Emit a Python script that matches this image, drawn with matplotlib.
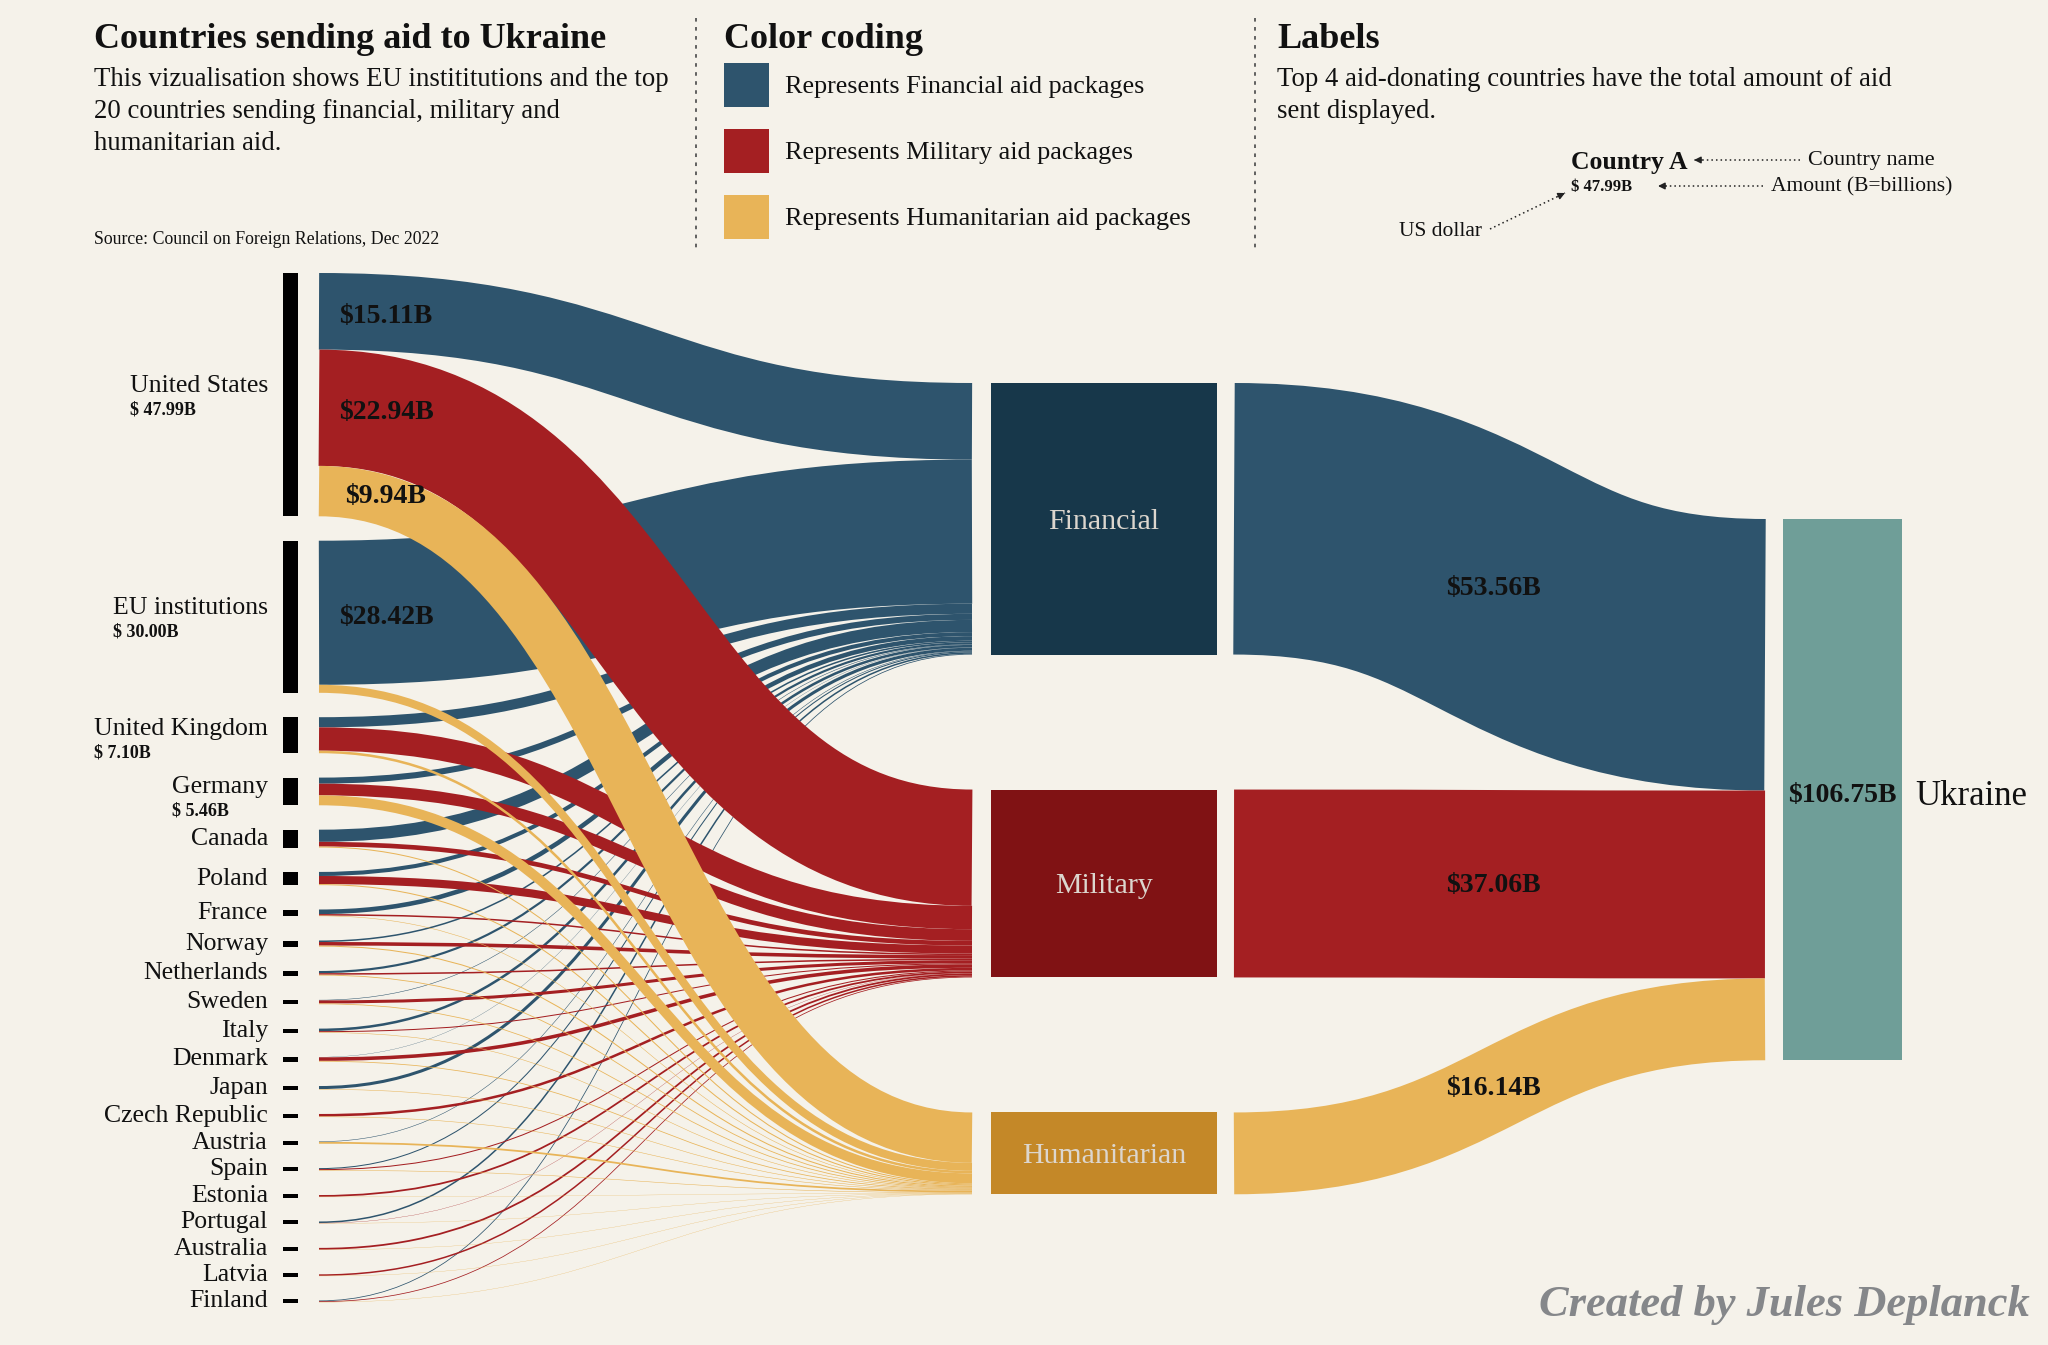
import matplotlib
matplotlib.use("Agg")
import matplotlib.pyplot as plt
from matplotlib.path import Path
from matplotlib.patches import PathPatch, Rectangle

# ---------------- data (billions of US dollars) ----------------
countries = ["United States", "EU institutions", "United Kingdom", "Germany", "Canada",
             "Poland", "France", "Norway", "Netherlands", "Sweden", "Italy", "Denmark",
             "Japan", "Czech Republic", "Austria", "Spain", "Estonia", "Portugal",
             "Australia", "Latvia", "Finland"]
financial = [15.11, 28.42, 2.00, 1.20, 2.40, 0.80, 0.90, 0.30, 0.43, 0.10, 0.50, 0.05,
             0.60, 0.00, 0.10, 0.20, 0.00, 0.30, 0.00, 0.00, 0.15]
military = [22.94, 0.00, 4.60, 2.30, 0.92, 1.60, 0.30, 0.70, 0.30, 0.60, 0.20, 0.70,
            0.00, 0.50, 0.00, 0.20, 0.35, 0.05, 0.35, 0.30, 0.15]
humanitarian = [9.94, 1.58, 0.50, 1.96, 0.20, 0.20, 0.10, 0.20, 0.16, 0.15, 0.10, 0.15,
                0.10, 0.10, 0.35, 0.10, 0.05, 0.05, 0.05, 0.05, 0.05]
aid_types = ["Financial", "Military", "Humanitarian"]
ukraine_total = 106.75
n_amount_labels = 4          # top 4 donors show their total
link_label_min = 9.0         # flows above this value get a label

# ---------------- styling ----------------
W, H = 2048, 1345
BG = "#F5F2EA"
LINK_COL = ["#2E546D", "#A41F22", "#E8B458"]
NODE_COL = ["#17374A", "#801214", "#C48828"]
UKR_COL = "#6F9E98"
SERIF = ["Liberation Serif", "DejaVu Serif"]
plt.rcParams["font.family"] = SERIF

fig = plt.figure(figsize=(W / 100, H / 100), dpi=100)
fig.patch.set_facecolor(BG)
ax = fig.add_axes([0, 0, 1, 1])
ax.set_xlim(0, W)
ax.set_ylim(H, 0)
ax.axis("off")
ax.set_facecolor(BG)

KY = 5.07          # px per billion
TOP_L, PAD_L = 273, 24.4
TOP_M, PAD_M = 383, 135
TOP_U = 519
X_BAR0, X_BAR1 = 283, 298
X_L0, X_L1 = 319, 972
X_M0, X_M1 = 991, 1217
X_R0, X_R1 = 1234, 1765
X_U0, X_U1 = 1783, 1902

series = [financial, military, humanitarian]

# ---------------- layout ----------------
left_nodes = []
y = TOP_L
for i in range(len(countries)):
    h = sum(s[i] for s in series) * KY
    left_nodes.append((y, h))
    y += h + PAD_L

type_totals = [sum(s) for s in series]
mid_nodes = []
y = TOP_M
for t in type_totals:
    h = t * KY
    mid_nodes.append((y, h))
    y += h + PAD_M

ukr_h = sum(type_totals) * KY


def draw_link(x0, x1, ys, yt, w, color, z=2):
    xm = (x0 + x1) / 2
    p = Path([(x0, ys), (xm, ys), (xm, yt), (x1, yt)],
             [Path.MOVETO, Path.CURVE4, Path.CURVE4, Path.CURVE4])
    ax.add_patch(PathPatch(p, fill=False, lw=w * 0.72, edgecolor=color,
                           capstyle="butt", zorder=z))


# source offsets
src_off = []
for i in range(len(countries)):
    offs = []
    acc = left_nodes[i][0]
    for j in range(3):
        offs.append(acc)
        acc += series[j][i] * KY
    src_off.append(offs)

# links left -> middle (drawn type by type)
for j in range(3):
    acc = mid_nodes[j][0]
    for i in range(len(countries)):
        v = series[j][i]
        if v <= 0:
            continue
        w = v * KY
        ys = src_off[i][j] + w / 2
        yt = acc + w / 2
        acc += w
        draw_link(X_L0, X_L1, ys, yt, w, LINK_COL[j])
        if v >= link_label_min:
            ax.text(386, ys + 5, f"${v:.2f}B", ha="center", va="center",
                    fontsize=20, fontweight="bold", color="#111111", zorder=5)

# links middle -> Ukraine
acc = TOP_U
for j in range(3):
    w = type_totals[j] * KY
    ys = mid_nodes[j][0] + w / 2
    yt = acc + w / 2
    acc += w
    draw_link(X_R0, X_R1, ys, yt, w, LINK_COL[j])
    ax.text((X_R0 + X_R1) / 2 - 6, (ys + yt) / 2 + 2, f"${type_totals[j]:.2f}B",
            ha="center", va="center", fontsize=20, fontweight="bold",
            color="#111111", zorder=5)

# left nodes + labels
for i, c in enumerate(countries):
    y0, h = left_nodes[i]
    hb = max(h, 4)
    yc = y0 + h / 2
    ax.add_patch(Rectangle((X_BAR0, yc - hb / 2), X_BAR1 - X_BAR0, hb,
                           facecolor="black", edgecolor="none", zorder=3))
    if i < n_amount_labels:
        yn = yc - min(9, h / 6)
        t = ax.text(268, yn, c, ha="right", va="center", fontsize=18.5, color="#111111")
        fig.canvas.draw()
        bb = t.get_window_extent()
        xl = bb.x0
        tot = sum(s[i] for s in series)
        ax.text(xl, yn + 24, f"$ {tot:.2f}B", ha="left", va="center",
                fontsize=13, fontweight="bold", color="#111111")
    else:
        ax.text(268, yc, c, ha="right", va="center", fontsize=18.5, color="#111111")

# middle nodes
for j in range(3):
    y0, h = mid_nodes[j]
    ax.add_patch(Rectangle((X_M0, y0), X_M1 - X_M0, h, facecolor=NODE_COL[j],
                           edgecolor="none", zorder=3))
    ax.text((X_M0 + X_M1) / 2, y0 + h / 2 + 3, aid_types[j], ha="center", va="center",
            fontsize=21.5, color="#DCD6CE", zorder=4)

# Ukraine node
ax.add_patch(Rectangle((X_U0, TOP_U), X_U1 - X_U0, ukr_h, facecolor=UKR_COL,
                       edgecolor="none", zorder=3))
ax.text((X_U0 + X_U1) / 2, TOP_U + ukr_h / 2 + 6, f"${ukraine_total:.2f}B", ha="center",
        va="center", fontsize=20, fontweight="bold", color="#111111", zorder=4)
ax.text(1915, TOP_U + ukr_h / 2 + 7, "Ukraine", ha="left", va="center", fontsize=25,
        color="#111111", zorder=4)

# ---------------- header ----------------
ax.text(94, 39, "Countries sending aid to Ukraine", ha="left", va="center",
        fontsize=26, fontweight="bold", color="#111111")
for k, line in enumerate(["This vizualisation shows EU instititutions and the top",
                          "20 countries sending financial, military and",
                          "humanitarian aid."]):
    ax.text(94, 79 + k * 32, line, ha="left", va="center", fontsize=19.3, color="#111111")
ax.text(94, 240, "Source: Council on Foreign Relations, Dec 2022", ha="left",
        va="center", fontsize=12.8, color="#111111")

for xs in (696, 1255):
    ax.plot([xs, xs], [18, 248], color="#555555", lw=1.3, ls=(0, (2, 3)))

ax.text(724, 39, "Color coding", ha="left", va="center", fontsize=26,
        fontweight="bold", color="#111111")
legend_y = [85, 151, 217]
for j in range(3):
    ax.add_patch(Rectangle((724, legend_y[j] - 22), 45, 44, facecolor=LINK_COL[j],
                           edgecolor="none"))
    ax.text(785, legend_y[j] + 2, f"Represents {aid_types[j]} aid packages", ha="left",
            va="center", fontsize=18.8, color="#111111")

ax.text(1277, 39, "Labels", ha="left", va="center", fontsize=26, fontweight="bold",
        color="#111111")
ax.text(1277, 80, "Top 4 aid-donating countries have the total amount of aid", ha="left",
        va="center", fontsize=19.3, color="#111111")
ax.text(1277, 112, "sent displayed.", ha="left", va="center", fontsize=19.3, color="#111111")

ax.text(1571, 162, "Country A", ha="left", va="center", fontsize=18.5, fontweight="bold",
        color="#111111")
ax.text(1571, 187, "$ 47.99B", ha="left", va="center", fontsize=12, fontweight="bold",
        color="#111111")
ax.text(1808, 161, "Country name", ha="left", va="center", fontsize=16, color="#111111")
ax.text(1771, 187, "Amount (B=billions)", ha="left", va="center", fontsize=15.5,
        color="#111111")
ax.text(1482, 231, "US dollar", ha="right", va="center", fontsize=15.5, color="#111111")


def dotted_arrow(x0, y0, x1, y1):
    ax.plot([x0, x1], [y0, y1], color="#222222", lw=1.1, ls=(0, (1, 2)))
    dx, dy = x1 - x0, y1 - y0
    L = (dx * dx + dy * dy) ** 0.5
    ax.annotate("", xy=(x1, y1), xytext=(x1 - dx / L * 8, y1 - dy / L * 8),
                arrowprops=dict(arrowstyle="-|>", color="#222222", lw=1,
                                mutation_scale=10, shrinkA=0, shrinkB=0))


dotted_arrow(1800, 160, 1694, 160)
dotted_arrow(1763, 186, 1658, 186)
dotted_arrow(1490, 229, 1565, 193)

# watermark
ax.text(2030, 1305, "Created by Jules Deplanck", ha="right", va="center", fontsize=32,
        fontweight="bold", fontstyle="italic", color="#85878A")

fig.savefig("out.png", dpi=100, facecolor=BG)
